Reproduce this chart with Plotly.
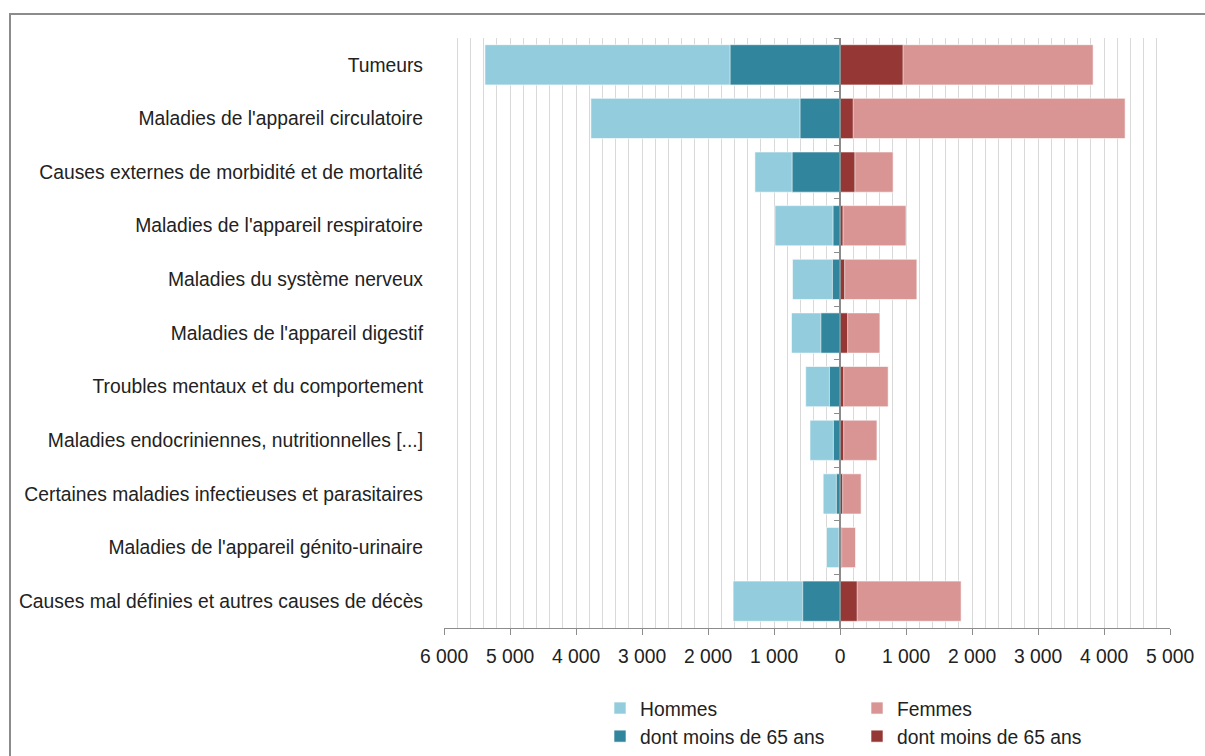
import plotly.graph_objects as go

categories = [
    "Tumeurs",
    "Maladies de l'appareil circulatoire",
    "Causes externes de morbidité et de mortalité",
    "Maladies de l'appareil respiratoire",
    "Maladies du système nerveux",
    "Maladies de l'appareil digestif",
    "Troubles mentaux et du comportement",
    "Maladies endocriniennes, nutritionnelles [...]",
    "Certaines maladies infectieuses et parasitaires",
    "Maladies de l'appareil génito-urinaire",
    "Causes mal définies et autres causes de décès",
]
hommes = [5380, 3775, 1290, 985, 720, 735, 520, 455, 255, 205, 1620]
hommes_moins65 = [1665, 605, 725, 105, 115, 290, 160, 100, 55, 15, 565]
femmes = [3835, 4320, 805, 1000, 1165, 605, 730, 560, 320, 235, 1835]
femmes_moins65 = [955, 200, 225, 45, 70, 115, 55, 55, 40, 25, 260]

tick_vals = [-6000, -5000, -4000, -3000, -2000, -1000, 0, 1000, 2000, 3000, 4000, 5000]
tick_text = ["6 000", "5 000", "4 000", "3 000", "2 000", "1 000", "0",
             "1 000", "2 000", "3 000", "4 000", "5 000"]

C_H = "#93CDDD"
C_H65 = "#31859C"
C_F = "#D99594"
C_F65 = "#953735"
FONT = "Liberation Sans"
FS = 19.3
TXT = "#222222"

fig = go.Figure()
bar_kw = dict(orientation="h", width=0.75, hoverinfo="x+y",
              marker_line=dict(color="rgba(255,255,255,0.6)", width=1))
fig.add_trace(go.Bar(name="Hommes", y=categories, x=[-v for v in hommes],
                     marker_color=C_H, legend="legend", **bar_kw))
fig.add_trace(go.Bar(name="Femmes", y=categories, x=femmes,
                     marker_color=C_F, legend="legend2", **bar_kw))
fig.add_trace(go.Bar(name="dont moins de 65 ans", y=categories, x=[-v for v in hommes_moins65],
                     marker_color=C_H65, legend="legend", **bar_kw))
fig.add_trace(go.Bar(name="dont moins de 65 ans", y=categories, x=femmes_moins65,
                     marker_color=C_F65, legend="legend2", **bar_kw))
# invisible helper so that the category axis drawn at zero exists
fig.add_trace(go.Scatter(x=[0] * len(categories), y=categories, yaxis="y2", mode="markers",
                         marker=dict(opacity=0), showlegend=False, hoverinfo="skip"))

n = len(categories)
ml, mr, mt, mb = 444, 35, 38, 128
W, H = 1205, 756
pw, ph = W - ml - mr, H - mt - mb


def px_x(px):
    return (px - ml) / pw


def px_y(py):
    return (mt + ph - py) / ph


leg_common = dict(yanchor="top", xanchor="left", orientation="v", bgcolor="rgba(0,0,0,0)",
                  font=dict(size=FS, family=FONT, color=TXT), tracegroupgap=0, itemwidth=30)

fig.update_layout(
    width=W, height=H,
    margin=dict(l=ml, r=mr, t=mt, b=mb, autoexpand=False),
    barmode="overlay",
    plot_bgcolor="white", paper_bgcolor="white",
    font=dict(family=FONT, size=FS, color=TXT),
    xaxis=dict(
        range=[-6000, 5000], tickmode="array", tickvals=tick_vals, ticktext=tick_text,
        showgrid=True, gridcolor="#D9D9D9", gridwidth=1,
        minor=dict(tickmode="linear", tick0=0, dtick=200, showgrid=True,
                   gridcolor="#D9D9D9", gridwidth=1),
        zeroline=False, showline=True, linecolor="#8C8C8C", linewidth=1,
        ticks="outside", ticklen=6, tickcolor="#8C8C8C",
        tickfont=dict(size=FS, family=FONT, color=TXT), ticklabelstandoff=5,
        fixedrange=True, automargin=False,
    ),
    yaxis=dict(
        type="category", categoryorder="array", categoryarray=categories,
        range=[n - 0.5, -0.5], showgrid=False, zeroline=False, showline=False,
        ticks="", ticklabelstandoff=20, tickfont=dict(size=FS, family=FONT, color=TXT),
        automargin=False,
    ),
    yaxis2=dict(
        type="category", categoryorder="array", categoryarray=categories,
        range=[n - 0.5, -0.5], overlaying="y", anchor="free", position=6000 / 11000,
        side="left", showgrid=False, zeroline=False, showline=True,
        linecolor="#8C8C8C", linewidth=1.5, ticks="outside", ticklen=5,
        tickcolor="#8C8C8C", tickson="boundaries", showticklabels=False,
    ),
    legend=dict(x=px_x(600), y=px_y(689), **leg_common),
    legend2=dict(x=px_x(857), y=px_y(689), **leg_common),
    showlegend=True,
    shapes=[dict(type="rect", xref="paper", yref="paper",
                 x0=px_x(10), x1=px_x(W + 20), y0=px_y(H + 20), y1=px_y(14),
                 line=dict(color="#8C8C8C", width=2), fillcolor="rgba(0,0,0,0)", layer="below")],
)

fig.write_html("out.html")
